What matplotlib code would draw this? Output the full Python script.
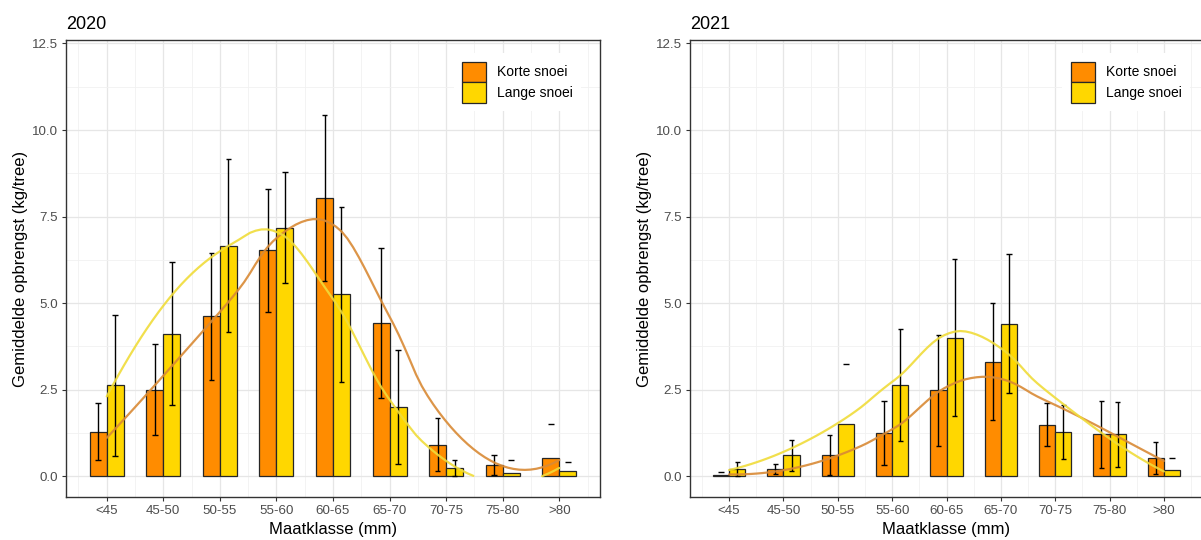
import numpy as np
import matplotlib
matplotlib.use("Agg")
import matplotlib.pyplot as plt
from matplotlib.patches import Patch
from matplotlib.ticker import MultipleLocator, FixedLocator

plt.rcParams['font.family'] = ['Liberation Sans', 'DejaVu Sans']

categories = ["<45", "45-50", "50-55", "55-60", "60-65", "65-70", "70-75", "75-80", ">80"]
series_names = ["Korte snoei", "Lange snoei"]

# 2020
korte_2020 = [1.29, 2.50, 4.62, 6.52, 8.04, 4.42, 0.91, 0.32, 0.52]
korte_2020_sd = [0.82, 1.31, 1.83, 1.77, 2.40, 2.16, 0.77, 0.29, 1.00]
lange_2020 = [2.63, 4.12, 6.66, 7.18, 5.25, 2.00, 0.25, 0.09, 0.14]
lange_2020_sd = [2.04, 2.07, 2.49, 1.60, 2.52, 1.66, 0.23, 0.39, 0.28]

# 2021
korte_2021 = [0.04, 0.20, 0.61, 1.25, 2.48, 3.31, 1.49, 1.21, 0.52]
korte_2021_sd = [0.08, 0.15, 0.57, 0.93, 1.61, 1.69, 0.63, 0.96, 0.46]
lange_2021 = [0.22, 0.61, 1.51, 2.63, 4.00, 4.40, 1.29, 1.21, 0.18]
lange_2021_sd = [0.20, 0.45, 1.73, 1.61, 2.26, 2.01, 0.78, 0.93, 0.35]

panels = [
    ("2020", korte_2020, korte_2020_sd, lange_2020, lange_2020_sd),
    ("2021", korte_2021, korte_2021_sd, lange_2021, lange_2021_sd),
]

bar_colors = ["#FF8C00", "#FFD700"]
line_colors = ["#D98A35", "#F0DC3A"]
y_limits = (0.0, 12.0)


def loess(x, y, xnew, span=0.75, degree=2):
    """Local quadratic regression with tricube weights (loess-style smoother)."""
    x = np.asarray(x, float)
    y = np.asarray(y, float)
    n = len(x)
    q = int(np.floor(n * span))
    out = np.empty(len(xnew))
    for i, x0 in enumerate(xnew):
        d = np.abs(x - x0)
        ds = np.sort(d)
        h = (ds[q - 1] + ds[min(q, n - 1)]) / 2.0
        w = np.clip(1 - (d / h) ** 3, 0, None) ** 3
        X = np.vander(x - x0, degree + 1, increasing=True)
        Wt = np.diag(w)
        beta = np.linalg.lstsq(X.T @ Wt @ X, X.T @ Wt @ y, rcond=None)[0]
        out[i] = beta[0]
    return out


W_PX, H_PX = 1201, 540
fig = plt.figure(figsize=(W_PX / 100, H_PX / 100), dpi=100)

axes_px = [(66, 600), (690, 1203)]
top_px, bot_px = 40, 497

xpos = np.arange(1, len(categories) + 1)
bw = 0.3

for (title, k, ks, l, ls), (x0p, x1p) in zip(panels, axes_px):
    ax = fig.add_axes([x0p / W_PX, 1 - bot_px / H_PX, (x1p - x0p) / W_PX, (bot_px - top_px) / H_PX])
    ax.set_xlim(0.28, 9.72)
    span_y = y_limits[1] - y_limits[0]
    ax.set_ylim(y_limits[0] - 0.05 * span_y, y_limits[1] + 0.05 * span_y)

    # grid
    ax.set_xticks(xpos)
    ax.xaxis.set_minor_locator(FixedLocator(np.concatenate([[0.5], xpos + 0.5])))
    ax.yaxis.set_major_locator(MultipleLocator(2.5))
    ax.yaxis.set_minor_locator(MultipleLocator(1.25))
    ax.grid(which="major", color="#E6E6E6", lw=0.9, zorder=0)
    ax.grid(which="minor", color="#F1F1F1", lw=0.6, zorder=0)
    ax.set_axisbelow(True)

    for si, (vals, sds) in enumerate([(k, ks), (l, ls)]):
        xs = xpos + (-bw / 2 if si == 0 else bw / 2)
        ax.bar(xs, vals, width=bw, color=bar_colors[si], edgecolor="#262626", lw=0.9, zorder=2)
        for xc, m, s in zip(xs, vals, sds):
            up, lo = m + s, m - s
            ax.hlines(up, xc - 0.05, xc + 0.05, color="black", lw=1.0, zorder=3)
            if lo >= y_limits[0]:
                ax.vlines(xc, lo, up, color="black", lw=1.0, zorder=3)
                ax.hlines(lo, xc - 0.05, xc + 0.05, color="black", lw=1.0, zorder=3)

    xs_fit = np.linspace(1, 9, 80)
    for si, vals in enumerate([k, l]):
        yf = loess(xpos, vals, xs_fit)
        yf = np.where(yf < y_limits[0], np.nan, yf)
        ax.plot(xs_fit, yf, color=line_colors[si], lw=1.6, alpha=0.9, zorder=4,
                solid_capstyle="round")

    ax.set_xticklabels(categories)
    ax.set_yticks([0, 2.5, 5, 7.5, 10, 12.5])
    ax.set_yticklabels(["0.0", "2.5", "5.0", "7.5", "10.0", "12.5"])
    ax.tick_params(which="major", length=3.2, width=0.8, color="#333333",
                   labelsize=9.6, labelcolor="#4D4D4D", pad=2.5)
    ax.tick_params(which="minor", length=0)
    for sp in ax.spines.values():
        sp.set_color("#333333")
        sp.set_linewidth(1.0)

    ax.set_xlabel("Maatklasse (mm)", fontsize=12, color="black", labelpad=4)
    ax.set_ylabel("Gemiddelde opbrengst (kg/tree)", fontsize=12, color="black", labelpad=3)
    ax.set_title(title, loc="left", fontsize=13, color="black", pad=8)

    handles = [Patch(facecolor=bar_colors[i], edgecolor="#262626", lw=0.9) for i in range(2)]
    leg = ax.legend(handles, series_names, loc="upper left", bbox_to_anchor=(0.726, 0.9707),
                    borderaxespad=0.0,
                    fontsize=10, frameon=True, framealpha=1.0, edgecolor="white",
                    fancybox=False, handlelength=1.73, handleheight=1.89,
                    labelspacing=0.0, handletextpad=0.79, borderpad=0.6)
    leg.get_frame().set_linewidth(0)
    leg.set_zorder(5)

fig.savefig("out.png", dpi=100)
